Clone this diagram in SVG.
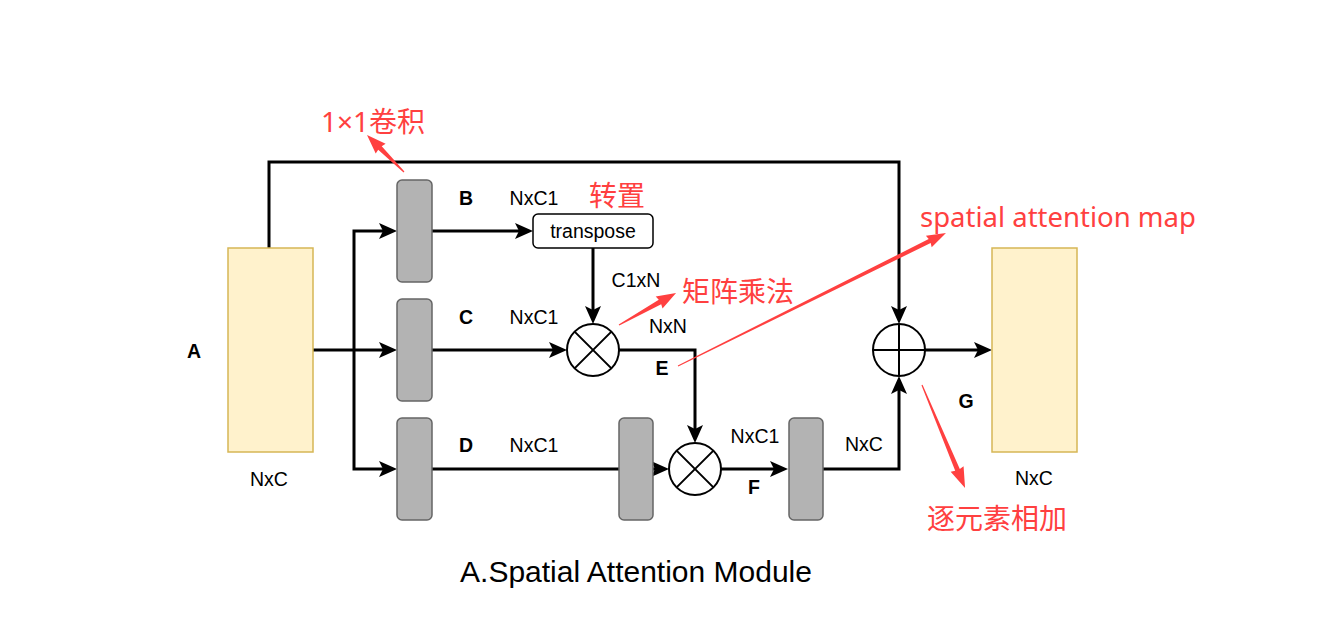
<svg xmlns="http://www.w3.org/2000/svg" width="1322" height="619" viewBox="0 0 1322 619">
<style>
.feat{fill:#fff2cc;stroke:#d6b656;stroke-width:1.5}
.conv{fill:#b3b3b3;stroke:#666666;stroke-width:1.5}
.op{fill:#ffffff;stroke:#000000;stroke-width:2}
.opl{stroke:#000000;stroke-width:2;fill:none}
.ln{fill:none;stroke:#000000;stroke-width:3;marker-end:url(#ah)}
.lnp{fill:none;stroke:#000000;stroke-width:3}
.t{font-family:"Liberation Sans",Arial,sans-serif;font-size:19.5px;fill:#000;text-anchor:middle}
.b{font-weight:bold}
.red{font-family:"Noto Sans","Noto Sans CJK SC",sans-serif;font-size:28px;fill:#ff4040}
.redl{font-family:"Noto Sans","Noto Sans CJK SC",sans-serif;font-size:27.5px;fill:#ff4040}
.ra{fill:#ff4040}
</style>
<defs>
<marker id="ah" markerUnits="userSpaceOnUse" markerWidth="20" markerHeight="18" viewBox="0 0 20 18" refX="13" refY="9" orient="auto">
<path d="M1,1 L19,9 L1,17 L5,9 z" fill="#000"/>
</marker>
</defs>
<rect width="1322" height="619" fill="#ffffff"/>

<g id="connectors">
<path class="ln" d="M269,248 V162 H899 V318"/>
<path class="ln" d="M313,350 H391"/>
<path class="ln" d="M354,350 V231 H391"/>
<path class="ln" d="M354,350 V469 H391"/>
<path class="ln" d="M432,231 H527"/>
<path class="ln" d="M593,248 V318"/>
<path class="ln" d="M432,350 H561"/>
<path class="ln" d="M619,350 H695 V437"/>
<path class="lnp" d="M432,469 H619"/>
<path class="ln" d="M653,469 H663"/>
<path class="ln" d="M721,469 H782"/>
<path class="ln" d="M823,469 H899 V382"/>
<path class="ln" d="M925,350 H986"/>
</g>

<g id="nodeA"><rect class="feat" x="228" y="248" width="85" height="204"/>
<text class="t b" x="194" y="358">A</text>
<text class="t" x="269" y="486">NxC</text></g>

<g id="convB"><rect class="conv" x="397" y="180" width="35" height="102" rx="5"/></g>
<g id="convC"><rect class="conv" x="397" y="299" width="35" height="102" rx="5"/></g>
<g id="convD"><rect class="conv" x="397" y="418" width="35" height="102" rx="5"/></g>
<g id="conv2"><rect class="conv" x="619" y="418" width="34" height="102" rx="5"/></g>
<g id="conv3"><rect class="conv" x="789" y="418" width="34" height="102" rx="5"/></g>

<g id="transpose"><rect x="533" y="214" width="120" height="34" rx="5" fill="#fff" stroke="#000" stroke-width="1.5"/>
<text class="t" x="593" y="238">transpose</text></g>

<g id="mul1"><circle class="op" cx="593" cy="350" r="26"/>
<path class="opl" d="M574.6,331.6 L611.4,368.4 M611.4,331.6 L574.6,368.4"/></g>
<g id="mul2"><circle class="op" cx="695" cy="469" r="26"/>
<path class="opl" d="M676.6,450.6 L713.4,487.4 M713.4,450.6 L676.6,487.4"/></g>
<g id="add"><circle class="op" cx="899" cy="350" r="26"/>
<path class="opl" d="M873,350 H925 M899,324 V376"/></g>

<g id="nodeG"><rect class="feat" x="992" y="248" width="85" height="204"/>
<text class="t b" x="966" y="408">G</text>
<text class="t" x="1034" y="485">NxC</text></g>

<g id="labels">
<text class="t b" x="466" y="205">B</text>
<text class="t" x="534" y="205">NxC1</text>
<text class="t b" x="466" y="324">C</text>
<text class="t" x="534" y="324">NxC1</text>
<text class="t b" x="466" y="452">D</text>
<text class="t" x="534" y="452">NxC1</text>
<text class="t" x="636" y="287">C1xN</text>
<text class="t" x="668" y="333">NxN</text>
<text class="t b" x="662" y="375">E</text>
<text class="t" x="755" y="443">NxC1</text>
<text class="t" x="864" y="451">NxC</text>
<text class="t b" x="754" y="494">F</text>
</g>

<g id="annotations">
<text class="red" x="321" y="132">1×1卷积</text>
<polygon class="ra" transform="translate(404,172) rotate(-135)" points="0,-0.6 34,-2.5 33,-7 52.3,0 33,7 34,2.5 0,0.6"/>
<text class="red" x="589" y="206">转置</text>
<text class="red" x="682" y="302">矩阵乘法</text>
<polygon class="ra" transform="translate(619,325) rotate(-29.3)" points="0,-0.6 47,-2.5 46,-7 65.4,0 46,7 47,2.5 0,0.6"/>
<text class="redl" x="920" y="227">spatial attention map</text>
<polygon class="ra" transform="translate(678,366) rotate(-26.4)" points="0,-0.5 281,-2.2 280,-6.5 299.2,0 280,6.5 281,2.2 0,0.5"/>
<text class="red" x="927" y="529">逐元素相加</text>
<polygon class="ra" transform="translate(922,385) rotate(67.3)" points="0,-0.6 92,-2.5 91,-7 111.6,0 91,7 92,2.5 0,0.6"/>
</g>

<g id="title"><text x="636" y="582" font-family="'Liberation Sans',Arial,sans-serif" font-size="30" text-anchor="middle" fill="#000">A.Spatial Attention Module</text></g>
</svg>
